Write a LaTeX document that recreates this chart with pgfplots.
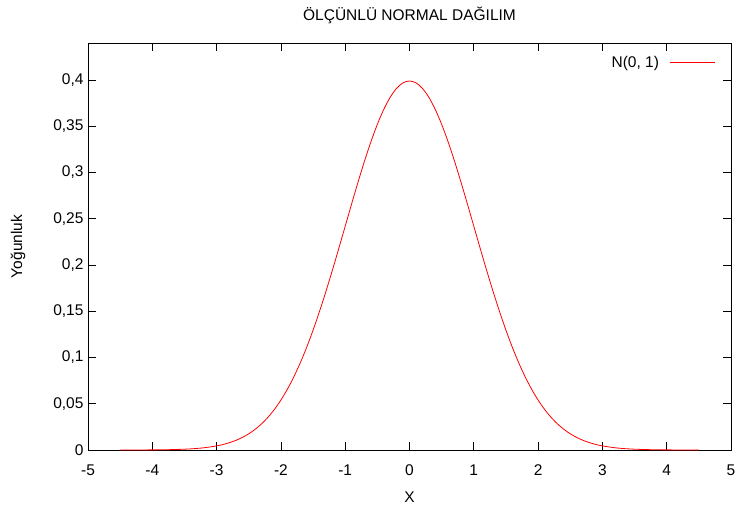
\documentclass[border=0pt]{standalone}
\usepackage{pgfplots}
\pgfplotsset{compat=1.18}
\usepackage{fontspec}
\setmainfont{Liberation Sans}
\newcommand{\fs}{\fontsize{15.5}{18}\selectfont}
\begin{document}
\begin{tikzpicture}[font=\fs]
\begin{axis}[
  scale only axis, width=643pt, height=407pt,
  at={(0,0)}, anchor=south west,
  xmin=-5, xmax=5, ymin=0, ymax=0.44,
  xtick={-5,-4,...,5},
  ytick={0,0.05,...,0.4},
  /pgf/number format/assume math mode=true,
  /pgf/number format/use comma,
  every tick label/.append style={font=\fs},
  xticklabel style={yshift=-11pt},
  yticklabel style={/pgf/number format/fixed, /pgf/number format/precision=2, xshift=-1pt},
  tick align=inside, major tick length=8pt,
  tick style={line width=0.8pt, black},
  axis line style={line width=0.8pt},
  minor tick num=0,
  title={ÖLÇÜNLÜ NORMAL DAĞILIM},
  title style={at={(axis description cs:0.5,1)}, anchor=center, yshift=22pt, font=\fs},
  xlabel={X}, ylabel={Yoğunluk},
  xlabel style={at={(axis description cs:0.5,0)}, anchor=center, yshift=-47pt, font=\fs},
  ylabel style={at={(axis description cs:0,0.5)}, anchor=center, yshift=70pt, font=\fs},
  legend style={draw=none, fill=none, at={(axis description cs:1,1)}, anchor=north east, xshift=-12pt, yshift=-9pt, legend cell align=right, font=\fs},
  legend plot pos=right,
  legend image code/.code={\path (0pt,0pt); \draw[#1] (9pt,0pt) -- (54pt,0pt);},
]
\addplot[red, line width=0.8pt, smooth] coordinates {
(-4.5,0.000016) (-4.0,0.000134) (-3.8,0.000292) (-3.6,0.000612) (-3.4,0.001232)
(-3.2,0.002384) (-3.0,0.004432) (-2.9,0.005953) (-2.8,0.007915) (-2.7,0.010421)
(-2.6,0.013583) (-2.5,0.017528) (-2.4,0.022395) (-2.3,0.028327) (-2.2,0.035475)
(-2.1,0.043984) (-2.0,0.053991) (-1.9,0.065616) (-1.8,0.078950) (-1.7,0.094049)
(-1.6,0.110921) (-1.5,0.129518) (-1.4,0.149727) (-1.3,0.171369) (-1.2,0.194186)
(-1.1,0.217852) (-1.0,0.241971) (-0.9,0.266085) (-0.8,0.289692) (-0.7,0.312254)
(-0.6,0.333225) (-0.5,0.352065) (-0.4,0.368270) (-0.3,0.381388) (-0.2,0.391043)
(-0.1,0.396953) (0.0,0.398942)
(0.1,0.396953) (0.2,0.391043) (0.3,0.381388) (0.4,0.368270) (0.5,0.352065)
(0.6,0.333225) (0.7,0.312254) (0.8,0.289692) (0.9,0.266085) (1.0,0.241971)
(1.1,0.217852) (1.2,0.194186) (1.3,0.171369) (1.4,0.149727) (1.5,0.129518)
(1.6,0.110921) (1.7,0.094049) (1.8,0.078950) (1.9,0.065616) (2.0,0.053991)
(2.1,0.043984) (2.2,0.035475) (2.3,0.028327) (2.4,0.022395) (2.5,0.017528)
(2.6,0.013583) (2.7,0.010421) (2.8,0.007915) (2.9,0.005953) (3.0,0.004432)
(3.2,0.002384) (3.4,0.001232) (3.6,0.000612) (3.8,0.000292) (4.0,0.000134)
(4.5,0.000016)
};
\addlegendentry{N(0, 1)}
\end{axis}
\pgfresetboundingbox
\path (-88pt,-57pt) rectangle (651pt,450pt);
\end{tikzpicture}
\end{document}
